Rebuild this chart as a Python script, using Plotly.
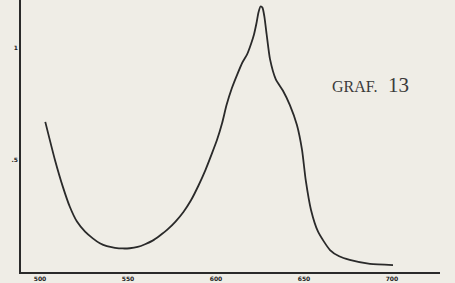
import plotly.graph_objects as go

# wavelength (nm) and relative value
wavelength = [503, 508.5, 513, 517, 521, 525.6, 530, 534, 538, 542.6, 547, 551, 555.5, 559.7, 564, 568, 572.5,
              577, 581.5, 585.8, 590, 594, 597.5, 600.6, 603.5, 606, 609, 612, 615, 617.6, 620, 621.6, 623,
              624.2, 625.3, 626.4, 627.5, 628.8, 630.7, 634, 638, 642, 646, 648.9, 651, 654, 658, 664.8, 670, 676,
              687.5, 700.6]
value = [0.67, 0.50, 0.38, 0.29, 0.225, 0.18, 0.15, 0.128, 0.115, 0.108, 0.105, 0.106, 0.112, 0.124, 0.14, 0.162, 0.19,
         0.225, 0.268, 0.32, 0.385, 0.455, 0.525, 0.59, 0.665, 0.745, 0.82, 0.88, 0.935, 0.97, 1.02, 1.06, 1.11,
         1.16, 1.185, 1.18, 1.14, 1.06, 0.95, 0.86, 0.81, 0.745, 0.656, 0.545, 0.41, 0.277, 0.18, 0.098, 0.07, 0.054,
         0.036, 0.031]

x_ticks = [500, 550, 600, 650, 700]
x_tick_labels = ["500", "550", "600", "650", "700"]
y_ticks = [0.5, 1.0]
y_tick_labels = [".5", "1"]

fig = go.Figure()
fig.add_trace(go.Scatter(x=wavelength, y=value, mode="lines",
                         line=dict(color="#2a2a2a", width=1.8, shape="spline", smoothing=0.6),
                         hoverinfo="skip", showlegend=False))

fig.update_layout(
    width=455, height=283,
    margin=dict(l=21, r=15, t=0, b=11),
    paper_bgcolor="#efede6", plot_bgcolor="#efede6",
    font=dict(family="DejaVu Serif", color="#333333"),
    xaxis=dict(range=[489.2, 727.3], tickvals=x_ticks, ticktext=x_tick_labels,
               showgrid=False, zeroline=False, showline=True, linecolor="#2a2a2a", linewidth=1.8,
               ticks="", tickfont=dict(size=6, family="DejaVu Sans", color="#222222", weight="bold"),
               fixedrange=True, automargin=False),
    yaxis=dict(range=[0, 1.214], tickvals=y_ticks, ticktext=y_tick_labels,
               showgrid=False, zeroline=False, showline=True, linecolor="#2a2a2a", linewidth=1.8,
               ticks="", tickfont=dict(size=6, family="DejaVu Sans", color="#222222", weight="bold"),
               fixedrange=True, automargin=False),
    annotations=[dict(text='<span style="font-size:16px">GRAF.</span>  13', xref="paper", yref="paper",
                      x=0.737, y=0.6875, xanchor="left", yanchor="middle", showarrow=False,
                      font=dict(family="Liberation Serif", size=21, color="#3a3a3a"))],
)

fig.write_html("out.html", config={"displayModeBar": False})

with open("out.html", encoding="utf-8") as f:
    html = f.read()
html = html.replace("<body>", '<body style="margin:0;background:#efede6">', 1)
with open("out.html", "w", encoding="utf-8") as f:
    f.write(html)
